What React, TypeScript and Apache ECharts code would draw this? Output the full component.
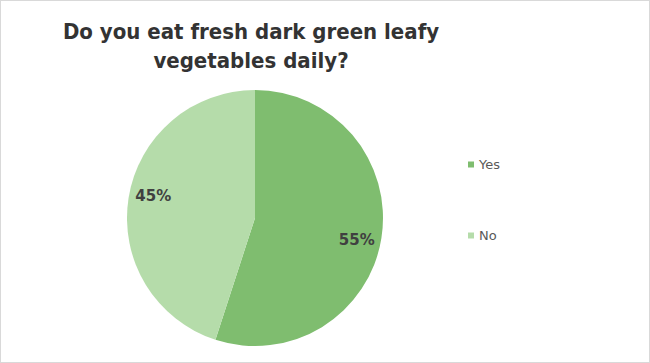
import React, { useEffect, useRef } from "react";
import * as echarts from "echarts";

const titleLines = ["Do you eat fresh dark green leafy", "vegetables daily?"];
const categories = ["Yes", "No"];
const values = [55, 45];
const colors = ["#7fbd6f", "#b5dcaa"];

export default function App() {
  const ref = useRef<HTMLDivElement>(null);
  useEffect(() => {
    document.body.style.margin = "0";
    const chart = echarts.init(ref.current!, null, { renderer: "svg" });
    const data = categories.map((c, i) => ({ name: c, value: values[i], itemStyle: { color: colors[i] } }));
    chart.setOption({
      animation: false,
      backgroundColor: "#ffffff",
      title: {
        text: titleLines.join("\n"),
        left: 245,
        top: 11,
        textAlign: "center",
        textStyle: {
          fontFamily: "DejaVu Sans Condensed",
          fontWeight: "bold",
          fontSize: 22,
          color: "#333333",
          lineHeight: 29,
        },
      },
      legend: {
        orient: "vertical",
        left: 467,
        top: 157,
        padding: 0,
        itemWidth: 6,
        itemHeight: 6,
        itemGap: 58,
        icon: "rect",
        data: categories,
        textStyle: { fontFamily: "DejaVu Sans", fontSize: 13, color: "#595959" },
      },
      series: [
        {
          type: "pie",
          center: [254, 217],
          radius: 128,
          startAngle: 90,
          clockwise: true,
          data,
          label: { show: false },
          labelLine: { show: false },
          silent: true,
        },
        {
          type: "pie",
          center: [254, 217],
          radius: [74, 128],
          startAngle: 87,
          clockwise: true,
          data: categories.map((c, i) => ({ name: c, value: values[i] })),
          itemStyle: { color: "rgba(0,0,0,0)" },
          legendHoverLink: false,
          silent: true,
          label: {
            show: true,
            position: "inside",
            formatter: "{d}%",
            fontFamily: "DejaVu Sans",
            fontWeight: "bold",
            fontSize: 15,
            color: "#404040",
          },
          labelLine: { show: false },
        },
      ],
    });
    return () => chart.dispose();
  }, []);
  return (
    <div
      ref={ref}
      style={{ position: "absolute", left: 0, top: 0, width: 650, height: 363, boxSizing: "border-box", border: "1px solid #d9d9d9" }}
    />
  );
}
